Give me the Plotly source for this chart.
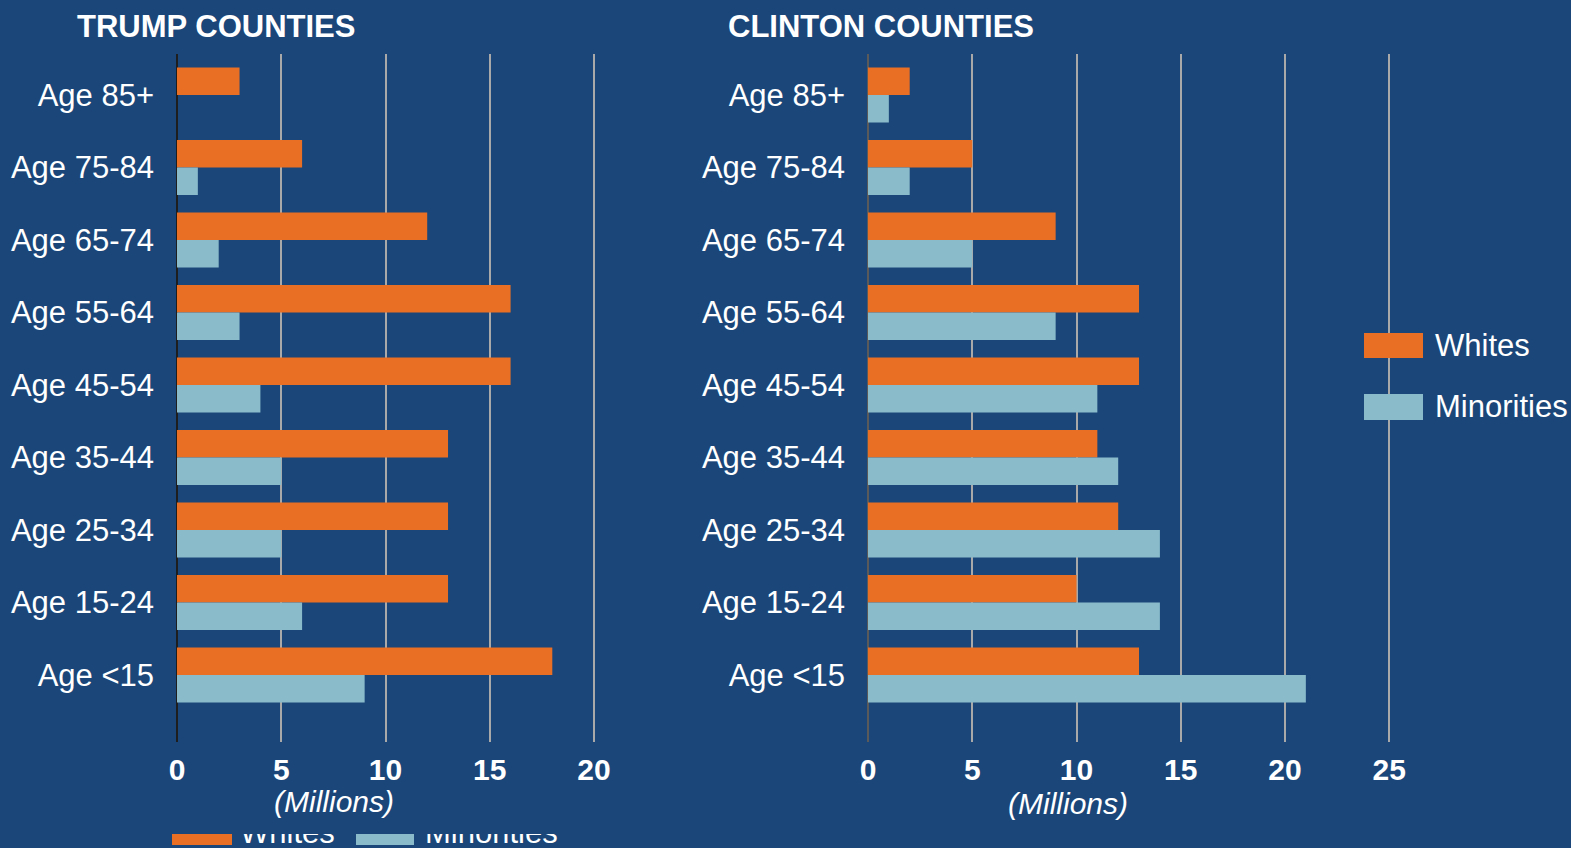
import plotly.graph_objects as go

# Population by age group, millions
age_groups = ["Age 85+", "Age 75-84", "Age 65-74", "Age 55-64", "Age 45-54",
              "Age 35-44", "Age 25-34", "Age 15-24", "Age <15"]
trump_whites = [3, 6, 12, 16, 16, 13, 13, 13, 18]
trump_minorities = [0, 1, 2, 3, 4, 5, 5, 6, 9]
clinton_whites = [2, 5, 9, 13, 13, 11, 12, 10, 13]
clinton_minorities = [1, 2, 5, 9, 11, 12, 14, 14, 21]
series_names = ["Whites", "Minorities"]
x_ticks = [0, 5, 10, 15, 20, 25]

W, H = 1571, 848
BG = "#1A4679"
ORANGE = "#E96F25"
TEAL = "#8ABBCB"
GRID = "#A9A9A9"
FONT = "Liberation Sans, Arial, sans-serif"


def px_x(p):
    return p / W


def px_y(p):
    return 1 - p / H


fig = go.Figure()

for xa, ya, whites, minorities in [("x", "y", trump_whites, trump_minorities),
                                   ("x2", "y2", clinton_whites, clinton_minorities)]:
    fig.add_trace(go.Bar(y=age_groups, x=whites, orientation="h", name=series_names[0],
                         marker=dict(color=ORANGE, line=dict(width=0)),
                         xaxis=xa, yaxis=ya, showlegend=False))
    fig.add_trace(go.Bar(y=age_groups, x=minorities, orientation="h", name=series_names[1],
                         marker=dict(color=TEAL, line=dict(width=0)),
                         xaxis=xa, yaxis=ya, showlegend=False))

# Partially hidden legend strip along the bottom edge
fig.add_trace(go.Scatter(x=[240, 425], y=[13, 13], mode="text", text=series_names,
                         textposition="middle right",
                         textfont=dict(family=FONT, size=31, color="white"),
                         xaxis="x3", yaxis="y3", cliponaxis=True, showlegend=False,
                         hoverinfo="skip"))

y_range = [8.924, -0.566]
y_dom = [px_y(742), px_y(54)]

xcommon = dict(showgrid=True, gridcolor=GRID, gridwidth=2, zeroline=True,
               zerolinewidth=2, tickmode="array", showline=False, ticks="",
               tickfont=dict(family=FONT, size=30, color="white", weight="bold"),
               ticklabelstandoff=7, fixedrange=True, automargin=False)
ycommon = dict(type="category", categoryorder="array", categoryarray=age_groups,
               range=y_range, domain=y_dom, showgrid=False, zeroline=False,
               showline=False, ticks="", ticklabelstandoff=22, automargin=False,
               tickfont=dict(family=FONT, size=31, color="white"), fixedrange=True)

fig.update_layout(
    width=W, height=H,
    margin=dict(l=0, r=0, t=0, b=0, autoexpand=False),
    paper_bgcolor=BG, plot_bgcolor=BG,
    barmode="group", bargap=0.24, bargroupgap=0,
    xaxis=dict(domain=[px_x(177), px_x(177 + 20.5 * 20.85)], range=[0, 20.5],
               tickvals=x_ticks[:5], zerolinecolor="#1E1E1E", anchor="y", **xcommon),
    yaxis=dict(anchor="x", **ycommon),
    xaxis2=dict(domain=[px_x(868), px_x(868 + 25.3 * 20.85)], range=[0, 25.3],
                tickvals=x_ticks, zerolinecolor="#5A5A5A", anchor="y2", **xcommon),
    yaxis2=dict(anchor="x2", **ycommon),
    xaxis3=dict(domain=[0, 1], range=[0, W], visible=False, fixedrange=True,
                anchor="y3", automargin=False),
    yaxis3=dict(domain=[0, 14 / H], range=[0, 14], visible=False, fixedrange=True,
                anchor="x3", automargin=False),
)

annotations = [
    dict(text="<b>TRUMP COUNTIES</b>", x=px_x(75), y=px_y(26), xanchor="left", yanchor="middle",
         font=dict(family=FONT, size=31, color="white")),
    dict(text="<b>CLINTON COUNTIES</b>", x=px_x(726), y=px_y(26), xanchor="left", yanchor="middle",
         font=dict(family=FONT, size=31, color="white")),
    dict(text="<i>(Millions)</i>", x=px_x(334), y=px_y(801), xanchor="center", yanchor="middle",
         font=dict(family=FONT, size=30, color="white")),
    dict(text="<i>(Millions)</i>", x=px_x(1068), y=px_y(803), xanchor="center", yanchor="middle",
         font=dict(family=FONT, size=30, color="white")),
    dict(text=series_names[0], x=px_x(1433), y=px_y(346), xanchor="left", yanchor="middle",
         font=dict(family=FONT, size=31, color="white")),
    dict(text=series_names[1], x=px_x(1433), y=px_y(406), xanchor="left", yanchor="middle",
         font=dict(family=FONT, size=31, color="white")),
]
for a in annotations:
    a.update(xref="paper", yref="paper", showarrow=False)
fig.update_layout(annotations=annotations)

shapes = [
    # legend swatches on the right
    dict(type="rect", xref="paper", yref="paper", x0=px_x(1364), x1=px_x(1423),
         y0=px_y(358), y1=px_y(333), fillcolor=ORANGE, line=dict(width=0), layer="above"),
    dict(type="rect", xref="paper", yref="paper", x0=px_x(1364), x1=px_x(1423),
         y0=px_y(420), y1=px_y(394), fillcolor=TEAL, line=dict(width=0), layer="above"),
    # bottom legend swatches
    dict(type="rect", xref="x3", yref="y3", x0=172, x1=232, y0=3, y1=14,
         fillcolor=ORANGE, line=dict(width=0), layer="above"),
    dict(type="rect", xref="x3", yref="y3", x0=356, x1=414, y0=3, y1=14,
         fillcolor=TEAL, line=dict(width=0), layer="above"),
]
fig.update_layout(shapes=shapes)

fig.write_html("out.html")
